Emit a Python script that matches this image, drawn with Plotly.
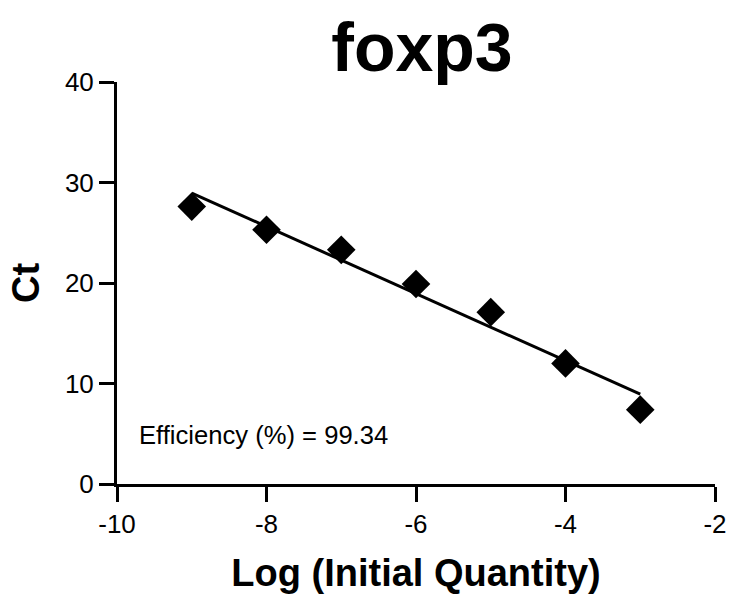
import numpy as np
import plotly.graph_objects as go

log_qty = [-9, -8, -7, -6, -5, -4, -3]
ct = [27.6, 25.3, 23.3, 19.9, 17.1, 12.0, 7.4]
efficiency_label = "Efficiency (%) = 99.34"
title_text = "foxp3"
x_ticks = [-10, -8, -6, -4, -2]
x_tick_labels = ["-10", "-8", "-6", "-4", "-2"]
y_ticks = [0, 10, 20, 30, 40]
y_tick_labels = ["0", "10", "20", "30", "40"]

slope, intercept = np.polyfit(log_qty, ct, 1)
fit_x = [min(log_qty), max(log_qty)]
fit_y = [slope * v + intercept for v in fit_x]

font = "Liberation Sans, Arial, sans-serif"

fig = go.Figure()
fig.add_trace(go.Scatter(x=fit_x, y=fit_y, mode="lines",
                         line=dict(color="black", width=3), showlegend=False, cliponaxis=False))
fig.add_trace(go.Scatter(x=log_qty, y=ct, mode="markers",
                         marker=dict(symbol="diamond", size=22, color="black"),
                         showlegend=False, cliponaxis=False))

fig.add_annotation(x=-9.735, y=4.85, xref="x", yref="y", text=efficiency_label,
                   showarrow=False, xanchor="left", yanchor="middle",
                   font=dict(family=font, size=25.6, color="black"))

fig.update_layout(
    width=739, height=600,
    margin=dict(l=117, r=17, t=82, b=114),
    paper_bgcolor="white", plot_bgcolor="white",
    title=dict(text="<b>" + title_text + "</b>", xref="paper", x=0.51, xanchor="center",
               y=0.922, yanchor="middle",
               font=dict(family=font, size=68, color="black")),
    xaxis=dict(range=[-10, -2], tickvals=x_ticks, ticktext=x_tick_labels,
               ticks="outside", ticklen=15, tickwidth=3,
               tickcolor="black", showline=True, linewidth=3, linecolor="black",
               showgrid=False, zeroline=False,
               tickfont=dict(family=font, size=26, color="black"),
               title=dict(text="<b>Log (Initial Quantity)</b>", standoff=22,
                          font=dict(family=font, size=38, color="black"))),
    yaxis=dict(range=[0, 40], tickvals=y_ticks, ticktext=y_tick_labels,
               ticks="outside", ticklen=15, tickwidth=3,
               tickcolor="black", showline=True, linewidth=3, linecolor="black",
               showgrid=False, zeroline=False,
               tickfont=dict(family=font, size=26, color="black"),
               title=dict(text="<b>Ct</b>", standoff=14,
                          font=dict(family=font, size=38, color="black"))),
)

fig.write_html("out.html", config={"displayModeBar": False},
               post_script="document.body.style.margin='0';")
